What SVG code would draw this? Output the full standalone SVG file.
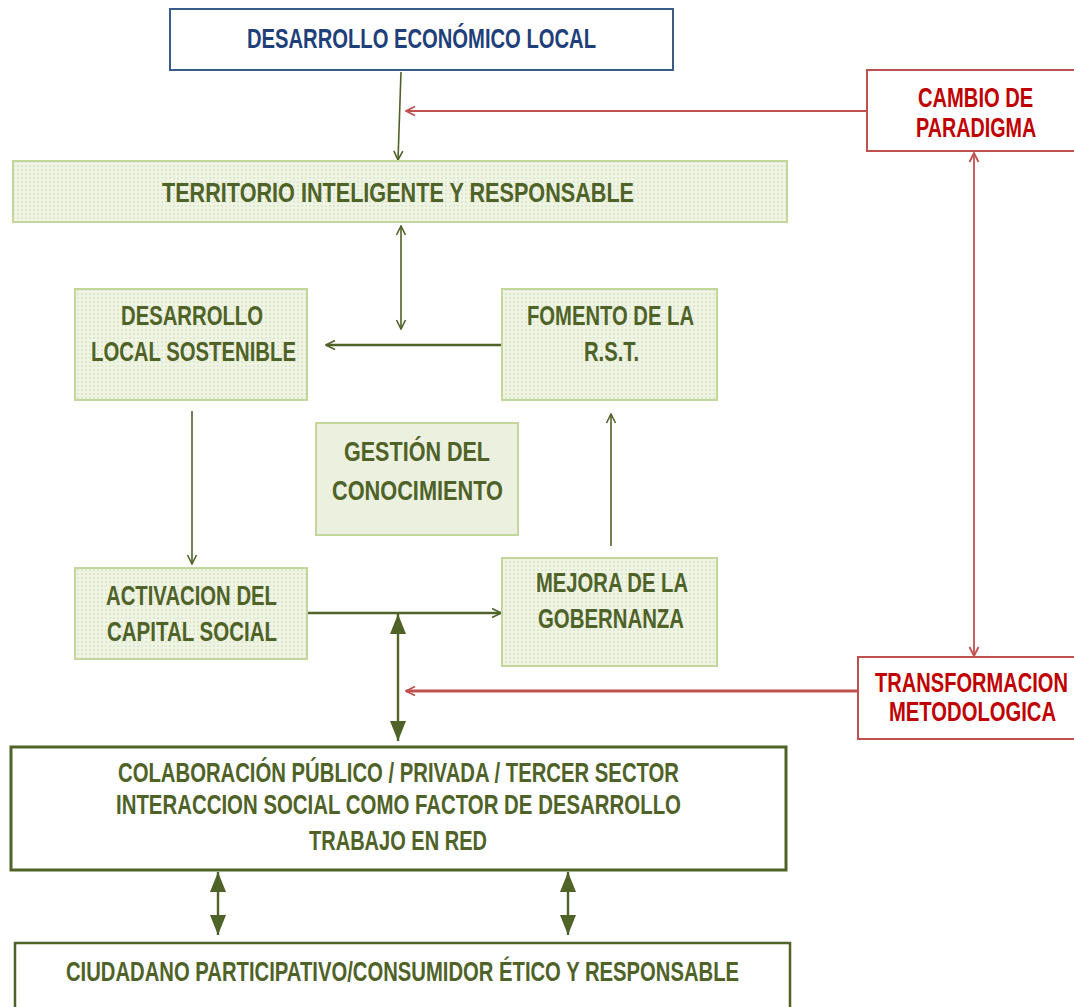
<svg xmlns="http://www.w3.org/2000/svg" width="1074" height="1007" viewBox="0 0 1074 1007">
<defs>
<pattern id="dots" width="4" height="4" patternUnits="userSpaceOnUse">
<rect width="4" height="4" fill="#EFF4E5"/>
<circle cx="2" cy="2" r="0.9" fill="#D6E3BE"/>
</pattern>
<marker id="openG" viewBox="0 0 12 12" refX="11" refY="6" markerWidth="12" markerHeight="12" markerUnits="userSpaceOnUse" orient="auto-start-reverse">
<path d="M2,1.5 L11,6 L2,10.5" fill="none" stroke="#4F6228" stroke-width="1.6"/>
</marker>
<marker id="openR" viewBox="0 0 12 12" refX="11" refY="6" markerWidth="12" markerHeight="12" markerUnits="userSpaceOnUse" orient="auto-start-reverse">
<path d="M2,1.5 L11,6 L2,10.5" fill="none" stroke="#C0504D" stroke-width="1.8"/>
</marker>
<marker id="fillG" viewBox="0 0 20 16" refX="20" refY="8" markerWidth="20" markerHeight="16" markerUnits="userSpaceOnUse" orient="auto-start-reverse">
<path d="M0,0 L20,8 L0,16 z" fill="#4F6228"/>
</marker>
</defs>
<style>
text{font-family:"Liberation Sans",Arial,sans-serif;font-weight:bold;font-size:28px;}
.g{fill:#4F6228;}
.b{fill:#1F3F7A;}
.r{fill:#C00000;}
.gbox{fill:url(#dots);stroke:#C3D69B;stroke-width:2;}
.gsolid{fill:#EBF1DE;stroke:#C3D69B;stroke-width:2;}
.bbox{fill:#FFFFFF;stroke:#385D8A;stroke-width:2;}
.rbox{fill:#FFFFFF;stroke:#C0504D;stroke-width:2;}
.wbox{fill:#FFFFFF;stroke:#4F6228;stroke-width:3;}
.cg{fill:none;stroke:#4F6228;stroke-width:1.6;}
.cgt{fill:none;stroke:#4F6228;stroke-width:2.4;}
.cr{fill:none;stroke:#C0504D;stroke-width:1.8;}
.crt{fill:none;stroke:#C0504D;stroke-width:3;}
</style>
<rect width="1074" height="1007" fill="#FFFFFF"/>

<g id="connectors">
<line class="cg" x1="401" y1="72" x2="398" y2="160" marker-end="url(#openG)"/>
<line class="cr" x1="867" y1="111" x2="406" y2="111" marker-end="url(#openR)"/>
<line class="cg" x1="401" y1="226" x2="401" y2="329" marker-start="url(#openG)" marker-end="url(#openG)"/>
<line class="cgt" x1="502" y1="345" x2="326" y2="345" marker-end="url(#openG)"/>
<line class="cg" x1="192" y1="411" x2="192" y2="564" marker-end="url(#openG)"/>
<line class="cg" x1="611" y1="546" x2="611" y2="414" marker-end="url(#openG)"/>
<line class="cgt" x1="308" y1="613" x2="501" y2="613" marker-end="url(#openG)"/>
<line class="cgt" x1="398" y1="614" x2="398" y2="741" marker-start="url(#fillG)" marker-end="url(#fillG)"/>
<line class="crt" x1="858" y1="691" x2="406" y2="691" marker-end="url(#openR)"/>
<line class="cr" x1="974" y1="153" x2="974" y2="656" marker-start="url(#openR)" marker-end="url(#openR)"/>
<line class="cgt" x1="218" y1="872" x2="218" y2="935" marker-start="url(#fillG)" marker-end="url(#fillG)"/>
<line class="cgt" x1="568" y1="872" x2="568" y2="935" marker-start="url(#fillG)" marker-end="url(#fillG)"/>
</g>

<g id="desarrollo-economico">
<rect class="bbox" x="170" y="9" width="503" height="61"/>
<text class="b" x="247" y="48" textLength="349" lengthAdjust="spacingAndGlyphs">DESARROLLO ECONÓMICO LOCAL</text>
</g>

<g id="cambio-paradigma">
<rect class="rbox" x="867" y="70" width="215" height="81"/>
<text class="r" transform="translate(918 107) scale(0.72 1)" x="0" y="0" textLength="160" lengthAdjust="spacingAndGlyphs">CAMBIO DE</text>
<text class="r" transform="translate(916 137) scale(0.72 1)" x="0" y="0" textLength="167" lengthAdjust="spacingAndGlyphs">PARADIGMA</text>
</g>

<g id="territorio">
<rect class="gbox" x="13" y="161" width="774" height="61"/>
<text class="g" x="162" y="202" textLength="472" lengthAdjust="spacingAndGlyphs">TERRITORIO INTELIGENTE  Y RESPONSABLE</text>
</g>

<g id="desarrollo-local">
<rect class="gbox" x="75" y="289" width="232" height="111"/>
<text class="g" x="121" y="325" textLength="142" lengthAdjust="spacingAndGlyphs">DESARROLLO</text>
<text class="g" x="91" y="361" textLength="205" lengthAdjust="spacingAndGlyphs">LOCAL SOSTENIBLE</text>
</g>

<g id="fomento">
<rect class="gbox" x="502" y="289" width="215" height="111"/>
<text class="g" x="527" y="325" textLength="167" lengthAdjust="spacingAndGlyphs">FOMENTO DE LA</text>
<text class="g" x="584" y="361" textLength="55" lengthAdjust="spacingAndGlyphs">R.S.T.</text>
</g>

<g id="gestion">
<rect class="gsolid" x="316" y="423" width="202" height="112"/>
<text class="g" x="344" y="461" textLength="146" lengthAdjust="spacingAndGlyphs">GESTIÓN DEL</text>
<text class="g" x="332" y="500" textLength="171" lengthAdjust="spacingAndGlyphs">CONOCIMIENTO</text>
</g>

<g id="activacion">
<rect class="gbox" x="75" y="568" width="232" height="91"/>
<text class="g" x="106" y="605" textLength="171" lengthAdjust="spacingAndGlyphs">ACTIVACION DEL</text>
<text class="g" x="107" y="641" textLength="170" lengthAdjust="spacingAndGlyphs">CAPITAL  SOCIAL</text>
</g>

<g id="mejora">
<rect class="gbox" x="502" y="558" width="215" height="108"/>
<text class="g" x="536" y="592" textLength="152" lengthAdjust="spacingAndGlyphs">MEJORA DE LA</text>
<text class="g" x="538" y="628" textLength="146" lengthAdjust="spacingAndGlyphs">GOBERNANZA</text>
</g>

<g id="transformacion">
<rect class="rbox" x="858" y="657" width="224" height="82"/>
<text class="r" transform="translate(875 692) scale(0.72 1)" x="0" y="0" textLength="268" lengthAdjust="spacingAndGlyphs">TRANSFORMACION</text>
<text class="r" transform="translate(889 721) scale(0.72 1)" x="0" y="0" textLength="232" lengthAdjust="spacingAndGlyphs">METODOLOGICA</text>
</g>

<g id="colaboracion">
<rect class="wbox" x="11" y="747" width="775" height="123"/>
<text class="g" x="118" y="782" textLength="561" lengthAdjust="spacingAndGlyphs">COLABORACIÓN PÚBLICO / PRIVADA / TERCER SECTOR</text>
<text class="g" x="116" y="814" textLength="565" lengthAdjust="spacingAndGlyphs">INTERACCION SOCIAL COMO FACTOR DE DESARROLLO</text>
<text class="g" x="309" y="850" textLength="178" lengthAdjust="spacingAndGlyphs">TRABAJO EN RED</text>
</g>

<g id="ciudadano">
<rect class="wbox" x="15" y="943" width="775" height="70" style="stroke-width:2.5"/>
<text class="g" x="66" y="981" textLength="673" lengthAdjust="spacingAndGlyphs">CIUDADANO PARTICIPATIVO/CONSUMIDOR ÉTICO Y RESPONSABLE</text>
</g>
</svg>
